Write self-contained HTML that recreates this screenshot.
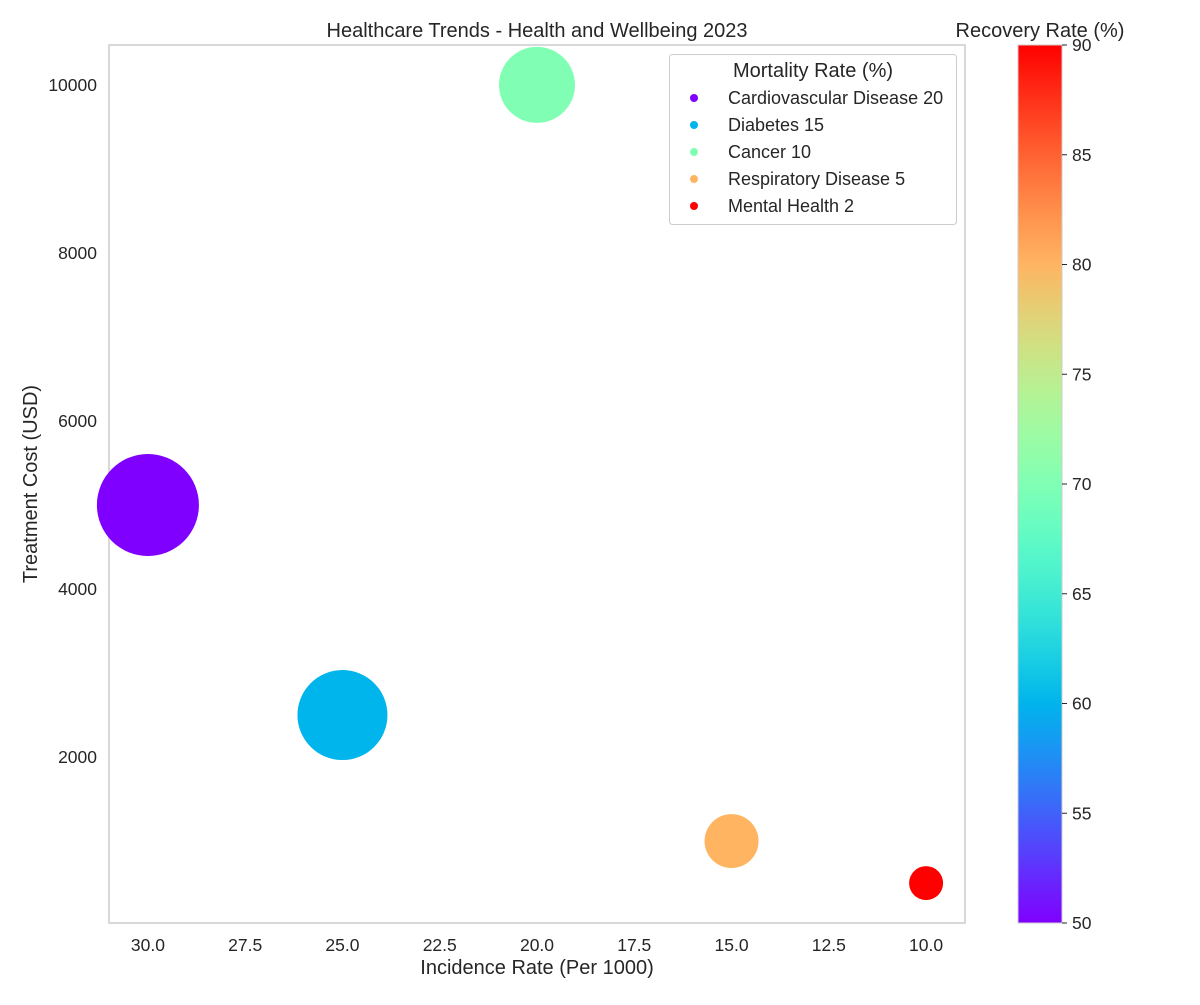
<!DOCTYPE html>
<html><head><meta charset="utf-8"><style>
body{margin:0;background:#fff;}
svg text{font-family:"Liberation Sans",Arial,sans-serif;fill:#262626;}
</style></head><body>
<svg id="chart" width="1200" height="1000" xmlns="http://www.w3.org/2000/svg">
<defs>
<linearGradient id="cbgrad" x1="0" y1="1" x2="0" y2="0"></linearGradient>
</defs>
<g id="plot"></g>
</svg>
<script>
const categories=["Cardiovascular Disease","Diabetes","Cancer","Respiratory Disease","Mental Health"];
const incidence=[30,25,20,15,10];
const cost=[5000,2500,10000,1000,500];
const mortality=[20,15,10,5,2];
const recovery=[50,60,70,80,90];
const radii=[51,45,38,27,17];
const xTicks=[30.0,27.5,25.0,22.5,20.0,17.5,15.0,12.5,10.0];
const yTicks=[2000,4000,6000,8000,10000];
const cbTicks=[50,55,60,65,70,75,80,85,90];

const NS="http://www.w3.org/2000/svg";
const g=document.getElementById('plot');
const L=109,R=965,T=45,B=923;
const xMin=31,xMax=9,yMin=25,yMax=10475;
const xs=v=>L+(v-xMin)/(xMax-xMin)*(R-L);
const ys=v=>B-(v-yMin)/(yMax-yMin)*(B-T);
const cbMin=50,cbMax=90;
const cbY=v=>B-(v-cbMin)/(cbMax-cbMin)*(B-T);
function rainbow(x){
 const r=Math.min(1,Math.abs(2*x-0.5)),gg=Math.sin(Math.PI*x),b=Math.abs(Math.cos(Math.PI*x/2));
 return `rgb(${Math.round(r*255)},${Math.round(gg*255)},${Math.round(b*255)})`;
}
const col=v=>rainbow((v-cbMin)/(cbMax-cbMin));
function el(tag,attrs,parent){const e=document.createElementNS(NS,tag);for(const k in attrs)e.setAttribute(k,attrs[k]);(parent||g).appendChild(e);return e;}
function txt(s,attrs,parent){const e=el('text',attrs,parent);e.textContent=s;return e;}

const frame=el('rect',{x:L,y:T,width:R-L,height:B-T,fill:'none',stroke:'#cccccc','stroke-width':1.5});



const bg=el('g',{});


categories.forEach((c,i)=>{
 const ci=el('circle',{cx:xs(incidence[i]),cy:ys(cost[i]),r:radii[i],fill:col(recovery[i])},bg);
 
 
});

xTicks.forEach(v=>{
 const t=txt(v.toFixed(1),{x:xs(v),y:B+28,'text-anchor':'middle','font-size':17.5});
 
 
});
yTicks.forEach(v=>{
 const t=txt(String(v),{x:L-12,y:ys(v)+6,'text-anchor':'end','font-size':17.5});
 
 
});
let t;
t=txt('Incidence Rate (Per 1000)',{x:(L+R)/2,y:974,'text-anchor':'middle','font-size':20});

t=txt('Treatment Cost (USD)',{x:37,y:(T+B)/2,'text-anchor':'middle','font-size':20,transform:`rotate(-90 37 ${(T+B)/2})`});

t=txt('Healthcare Trends - Health and Wellbeing 2023',{x:(L+R)/2,y:37,'text-anchor':'middle','font-size':20});


const lg=el('g',{});


el('rect',{x:669.5,y:54.5,width:287,height:170,rx:3,fill:'#fff',stroke:'#cccccc'},lg);
t=txt('Mortality Rate (%)',{x:813,y:77,'text-anchor':'middle','font-size':20},lg);

categories.forEach((c,i)=>{
 const y=98+i*27;
 const e=el('g',{},lg);
 
 
 el('circle',{cx:694,cy:y,r:4,fill:col(recovery[i])},e);
 txt(c+' '+mortality[i],{x:728,y:y+6,'font-size':18},e);
});

const grad=document.getElementById('cbgrad');
for(let k=0;k<=20;k++){const s=document.createElementNS(NS,'stop');s.setAttribute('offset',k/20);s.setAttribute('stop-color',rainbow(k/20));grad.appendChild(s);}
const cb=el('rect',{x:1018,y:T,width:44,height:B-T,fill:'url(#cbgrad)',stroke:'#cccccc'});


cbTicks.forEach(v=>{
 el('line',{x1:1062,x2:1067,y1:cbY(v),y2:cbY(v),stroke:'#262626'});
 const tt=txt(String(v),{x:1072,y:cbY(v)+6,'font-size':17.5});
 
 
});
t=txt('Recovery Rate (%)',{x:1040,y:37,'text-anchor':'middle','font-size':20});

</script>
</body></html>
